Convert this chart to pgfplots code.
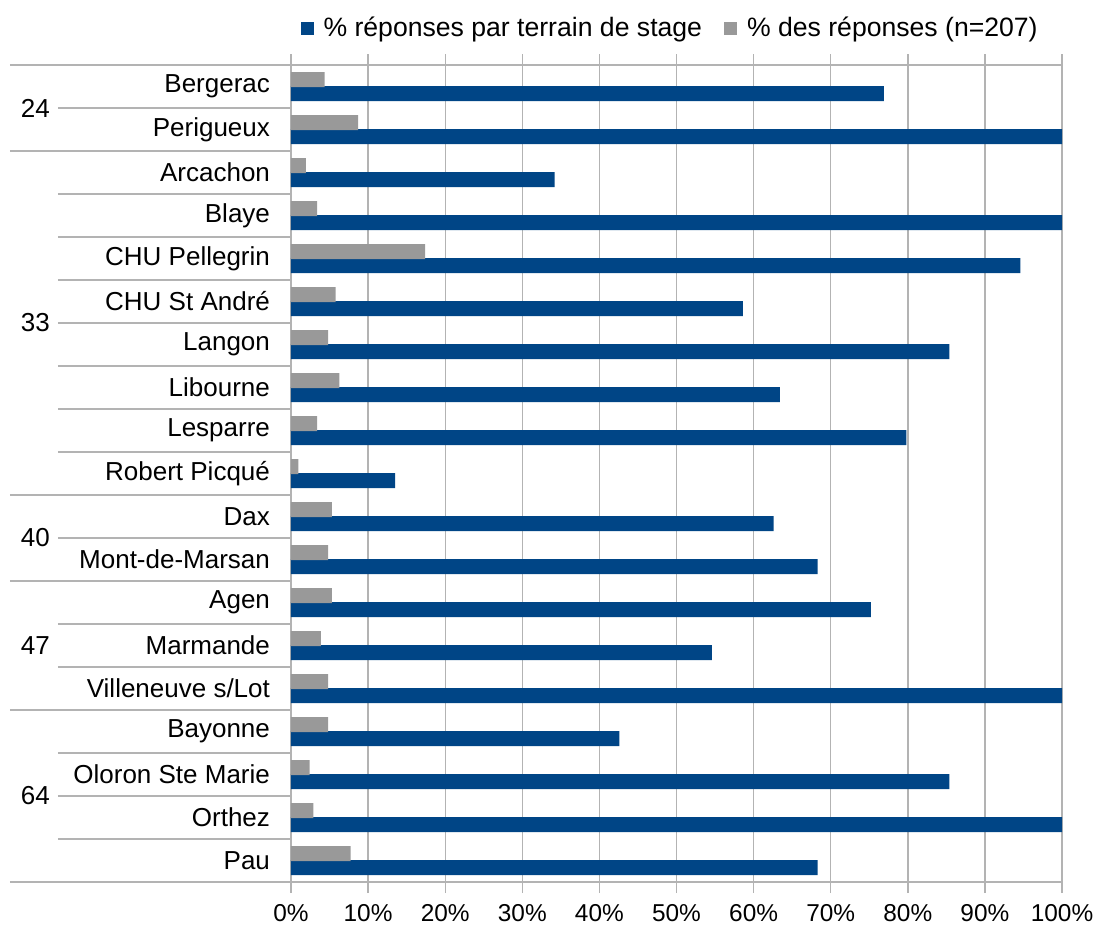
\documentclass[border=0pt]{standalone}
\usepackage{fontspec}
\setmainfont{Liberation Sans}
\usepackage{pgfplots}
\pgfplotsset{compat=1.18}
\definecolor{serblue}{HTML}{004586}
\definecolor{sergray}{HTML}{999999}
\definecolor{gridgray}{HTML}{B3B3B3}
\begin{document}
\fontsize{13}{15}\selectfont
\begin{tikzpicture}
\begin{axis}[name=ax, scale only axis, width=385.5pt, height=408.5pt,
  xbar, bar width=7.5pt,
  xmin=0, xmax=100, ymin=-0.5, ymax=18.5, y dir=reverse,
  xtick={0,10,...,100},
  xticklabel={\pgfmathprintnumber{\tick}\%},
  /pgf/number format/assume math mode=true,
  x tick label style={font=\fontsize{12.2}{14}\selectfont, yshift=-1pt},
  ytick={0,...,18},
  yticklabels={Bergerac,Perigueux,Arcachon,Blaye,CHU Pellegrin,CHU St André,Langon,Libourne,Lesparre,Robert Picqué,Dax,Mont-de-Marsan,Agen,Marmande,Villeneuve s/Lot,Bayonne,Oloron Ste Marie,Orthez,Pau},
  y tick label style={xshift=-0.5pt, font=\fontsize{13}{15}\selectfont},
  axis line style={gridgray, line width=0.7pt},
  xmajorgrids, major grid style={gridgray, line width=0.7pt},
  tick align=outside, major tick length=5.5pt,
  x tick style={gridgray, line width=0.7pt},
  ytick style={draw=none},
  clip=false,
  legend style={at={(0.493,1)}, anchor=south, yshift=8pt, draw=none, fill=none,
    font=\fontsize{13.3}{15}\selectfont,
    legend columns=2, /tikz/every even column/.append style={column sep=9pt}},
  legend cell align=left,
]
\addplot[fill=serblue, draw=none, bar shift=-3.5pt,
  legend image code/.code={\fill[serblue] (0pt,-3.25pt) rectangle (6.5pt,3.25pt); \path (9.5pt,0pt);}]
  coordinates {(76.9,0) (100,1) (34.2,2) (100,3) (94.6,4) (58.6,5) (85.4,6) (63.4,7) (79.8,8) (13.5,9) (62.6,10) (68.3,11) (75.2,12) (54.6,13) (100,14) (42.6,15) (85.4,16) (100,17) (68.3,18)};
\addlegendentry{\% réponses par terrain de stage}
\addplot[fill=sergray, draw=none, bar shift=3.5pt,
  legend image code/.code={\fill[sergray] (0pt,-3.25pt) rectangle (6.5pt,3.25pt); \path (9.5pt,0pt);}]
  coordinates {(4.35,0) (8.70,1) (1.93,2) (3.38,3) (17.39,4) (5.80,5) (4.83,6) (6.28,7) (3.38,8) (0.97,9) (5.31,10) (4.83,11) (5.31,12) (3.86,13) (4.83,14) (4.83,15) (2.42,16) (2.90,17) (7.73,18)};
\addlegendentry{\% des réponses (n=207)}
% group separators (long) and row separators (short)
\draw[gridgray, line width=0.7pt] (axis cs:-36.45,-0.5) -- (axis cs:0,-0.5);
\draw[gridgray, line width=0.7pt] (axis cs:-36.45,1.5) -- (axis cs:0,1.5);
\draw[gridgray, line width=0.7pt] (axis cs:-36.45,9.5) -- (axis cs:0,9.5);
\draw[gridgray, line width=0.7pt] (axis cs:-36.45,11.5) -- (axis cs:0,11.5);
\draw[gridgray, line width=0.7pt] (axis cs:-36.45,14.5) -- (axis cs:0,14.5);
\draw[gridgray, line width=0.7pt] (axis cs:-36.45,18.5) -- (axis cs:0,18.5);
\draw[gridgray, line width=0.7pt] (axis cs:-30.22,0.5) -- (axis cs:0,0.5);
\draw[gridgray, line width=0.7pt] (axis cs:-30.22,2.5) -- (axis cs:0,2.5);
\draw[gridgray, line width=0.7pt] (axis cs:-30.22,3.5) -- (axis cs:0,3.5);
\draw[gridgray, line width=0.7pt] (axis cs:-30.22,4.5) -- (axis cs:0,4.5);
\draw[gridgray, line width=0.7pt] (axis cs:-30.22,5.5) -- (axis cs:0,5.5);
\draw[gridgray, line width=0.7pt] (axis cs:-30.22,6.5) -- (axis cs:0,6.5);
\draw[gridgray, line width=0.7pt] (axis cs:-30.22,7.5) -- (axis cs:0,7.5);
\draw[gridgray, line width=0.7pt] (axis cs:-30.22,8.5) -- (axis cs:0,8.5);
\draw[gridgray, line width=0.7pt] (axis cs:-30.22,10.5) -- (axis cs:0,10.5);
\draw[gridgray, line width=0.7pt] (axis cs:-30.22,12.5) -- (axis cs:0,12.5);
\draw[gridgray, line width=0.7pt] (axis cs:-30.22,13.5) -- (axis cs:0,13.5);
\draw[gridgray, line width=0.7pt] (axis cs:-30.22,15.5) -- (axis cs:0,15.5);
\draw[gridgray, line width=0.7pt] (axis cs:-30.22,16.5) -- (axis cs:0,16.5);
\draw[gridgray, line width=0.7pt] (axis cs:-30.22,17.5) -- (axis cs:0,17.5);
% group names
\node[anchor=west] at (axis cs:-36.2,0.5) {24};
\node[anchor=west] at (axis cs:-36.2,5.5) {33};
\node[anchor=west] at (axis cs:-36.2,10.5) {40};
\node[anchor=west] at (axis cs:-36.2,13) {47};
\node[anchor=west] at (axis cs:-36.2,16.5) {64};
\end{axis}
\pgfresetboundingbox
\path[use as bounding box] ([shift={(-145.5pt,-22pt)}]ax.south west) rectangle ([shift={(402.5pt,441pt)}]ax.south west);
\end{tikzpicture}
\end{document}
